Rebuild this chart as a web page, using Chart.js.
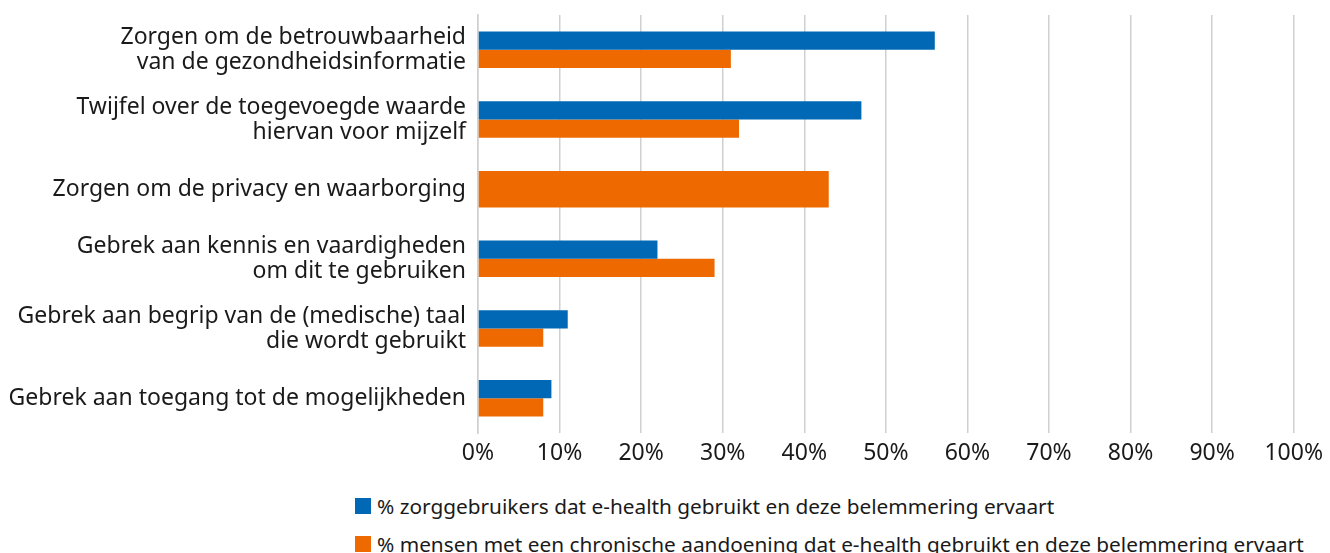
<!DOCTYPE html>
<html>
<head>
<meta charset="utf-8">
<script src="https://cdn.jsdelivr.net/npm/chart.js@4/dist/chart.umd.min.js"></script>
<style>
  html, body { margin: 0; padding: 0; background: #fff; }
  #wrap { position: relative; width: 1330px; height: 553px; overflow: hidden; }
  #box { position: absolute; left: 0; top: 0; width: 1330px; height: 473px; }
  #legend { position: absolute; left: 355px; top: 493px; font-family: "Noto Sans", sans-serif; font-size: 20.8px; color: #1a1a1a; }
  #legend .item { display: flex; align-items: center; height: 26px; margin-bottom: 12.4px; white-space: nowrap; }
  #legend .sw { width: 16px; height: 16px; margin-right: 6px; flex: none; }
</style>
</head>
<body>
<div id="wrap">
  <div id="box"><canvas id="c"></canvas></div>
  <div id="legend"></div>
</div>
<script>
const categories = [
  ["Zorgen om de betrouwbaarheid", "van de gezondheidsinformatie"],
  ["Twijfel over de toegevoegde waarde", "hiervan voor mijzelf"],
  "Zorgen om de privacy en waarborging",
  ["Gebrek aan kennis en vaardigheden", "om dit te gebruiken"],
  ["Gebrek aan begrip van de (medische) taal", "die wordt gebruikt"],
  "Gebrek aan toegang tot de mogelijkheden"
];
const seriesNames = [
  "% zorggebruikers dat e-health gebruikt en deze belemmering ervaart",
  "% mensen met een chronische aandoening dat e-health gebruikt en deze belemmering ervaart"
];
const zorggebruikers = [56, 47, null, 22, 11, 9];
const chronisch = [31, 32, 43, 29, 8, 8];
const xTicks = [0, 10, 20, 30, 40, 50, 60, 70, 80, 90, 100];

const colors = ["#0068b4", "#ee6a00"];

const chart = new Chart(document.getElementById("c"), {
  type: "bar",
  data: {
    labels: categories,
    datasets: [
      { label: seriesNames[0], data: zorggebruikers, backgroundColor: colors[0] },
      { label: seriesNames[1], data: chronisch, backgroundColor: colors[1] }
    ]
  },
  options: {
    indexAxis: "y",
    responsive: true,
    maintainAspectRatio: false,
    animation: false,
    skipNull: true,
    categoryPercentage: 0.525,
    barPercentage: 1.0,
    layout: { padding: { top: 15, right: 32, left: 0, bottom: 0 } },
    plugins: { legend: { display: false }, tooltip: { enabled: false } },
    scales: {
      x: {
        min: 0, max: 100,
        afterBuildTicks: (s) => { s.ticks = xTicks.map(v => ({ value: v })); },
        afterFit: (s) => { s.height = 40; },
        grid: { color: "#d0d0d0", lineWidth: 1.5, drawTicks: false },
        border: { display: false },
        ticks: {
          padding: 7,
          color: "#1a1a1a",
          font: { family: "'Noto Sans', sans-serif", size: 23 },
          callback: (v) => v + "%"
        }
      },
      y: {
        afterFit: (s) => { s.width = 478; s.paddingTop = 0; s.paddingBottom = 0; },
        grid: { display: false, drawTicks: false },
        border: { display: true, color: "#d0d0d0", width: 1.5 },
        ticks: {
          padding: 12,
          color: "#1a1a1a",
          font: { family: "'Noto Sans', sans-serif", size: 23, lineHeight: 1.09 }
        }
      }
    }
  }
});

const lg = document.getElementById("legend");
chart.data.datasets.forEach(ds => {
  const it = document.createElement("div");
  it.className = "item";
  const sw = document.createElement("span");
  sw.className = "sw";
  sw.style.background = ds.backgroundColor;
  const tx = document.createElement("span");
  tx.textContent = ds.label;
  it.appendChild(sw); it.appendChild(tx);
  lg.appendChild(it);
});
</script>
</body>
</html>
